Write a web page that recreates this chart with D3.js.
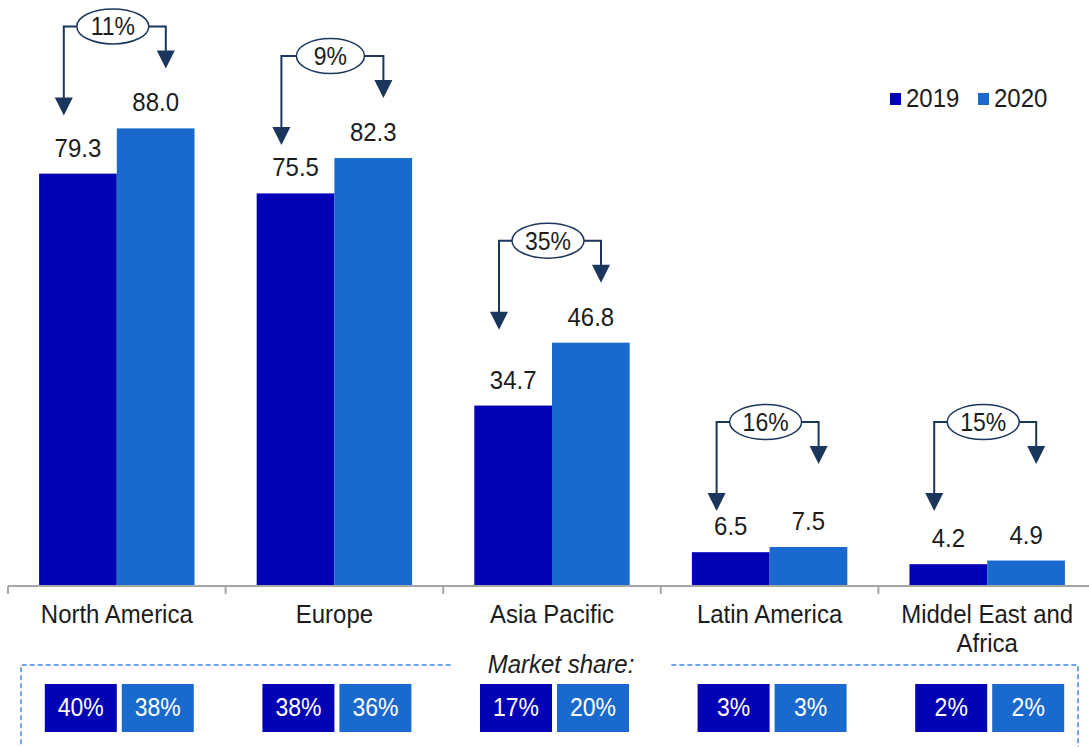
<!DOCTYPE html>
<html>
<head>
<meta charset="utf-8">
<script src="https://cdn.jsdelivr.net/npm/d3@7"></script>
<style>
  html, body { margin: 0; padding: 0; background: #fff; }
  svg { display: block; font-family: "Liberation Sans", Arial, sans-serif; }
</style>
</head>
<body>
<svg id="chart" width="1089" height="747"></svg>
<script>
// ---- data ----
const categories = ["North America", "Europe", "Asia Pacific", "Latin America", "Middel East and Africa"];
const seriesNames = ["2019", "2020"];
const values2019 = [79.3, 75.5, 34.7, 6.5, 4.2];
const values2020 = [88.0, 82.3, 46.8, 7.5, 4.9];
const growth = ["11%", "9%", "35%", "16%", "15%"];
const share2019 = ["40%", "38%", "17%", "3%", "2%"];
const share2020 = ["38%", "36%", "20%", "3%", "2%"];
const shareTitle = "Market share:";

const colors = { "2019": "#0303B5", "2020": "#1A6ACD" };
const arrowColor = "#1B365D";
const textColor = "#1c1c1c";
const SY = 1.1; // slight vertical stretch of text as in the reference

const svg = d3.select("#chart");
const W = 1089, H = 747;
const baseY = 586;

const x = d3.scaleBand().domain(categories).range([8, 1096]).paddingInner(0).paddingOuter(0);
const xs = d3.scaleBand().domain(seriesNames).range([0, x.bandwidth()]).paddingInner(0).paddingOuter(0.4);
const y = d3.scaleLinear().domain([0, 100]).range([baseY, baseY - 520]);

const rows = categories.map((c, i) => ({
  cat: c, i,
  vals: [{ s: "2019", v: values2019[i] }, { s: "2020", v: values2020[i] }],
  growth: growth[i],
  shares: [{ s: "2019", t: share2019[i] }, { s: "2020", t: share2020[i] }]
}));

function stretched(sel, px, py) {
  return sel.attr("x", 0).attr("y", 0).attr("transform", `translate(${px},${py}) scale(1,${SY})`);
}

// ---- bars ----
const g = svg.append("g");
const groups = g.selectAll("g.cat").data(rows).join("g")
  .attr("class", "cat")
  .attr("transform", d => `translate(${x(d.cat)},0)`);

groups.selectAll("rect").data(d => d.vals).join("rect")
  .attr("x", d => xs(d.s))
  .attr("width", xs.bandwidth())
  .attr("y", d => y(d.v))
  .attr("height", d => baseY - y(d.v))
  .attr("fill", d => colors[d.s]);

groups.selectAll("text.val").data(d => d.vals).join("text")
  .attr("class", "val")
  .attr("text-anchor", "middle")
  .attr("font-size", 24)
  .attr("fill", textColor)
  .text(d => d.v.toFixed(1))
  .each(function (d) { stretched(d3.select(this), xs(d.s) + xs.bandwidth() / 2, y(d.v) - 17); });

// ---- axis ----
const axis = d3.axisBottom(x).tickSizeInner(0).tickSizeOuter(0).tickPadding(0);
const axG = svg.append("g").attr("transform", `translate(0,${baseY})`).call(axis);
axG.select(".domain").attr("stroke", "#A6A6A6").attr("stroke-width", 2).attr("d", `M8,0H1089`);
axG.selectAll(".tick text")
  .attr("font-size", 24)
  .attr("font-family", "Liberation Sans, Arial, sans-serif")
  .attr("fill", textColor)
  .attr("dy", null)
  .attr("transform", `scale(1,${SY})`)
  .attr("y", 37 / SY)
  .each(function () { wrap(d3.select(this), 200, 29 / SY); });

// boundary ticks
const boundaries = d3.range(categories.length + 1).map(i => 8 + i * x.step());
svg.append("g").selectAll("line").data(boundaries.filter(b => b < W)).join("line")
  .attr("x1", d => d).attr("x2", d => d)
  .attr("y1", baseY).attr("y2", baseY + 8)
  .attr("stroke", "#A6A6A6").attr("stroke-width", 2);

function wrap(text, width, lh) {
  const words = text.text().split(/\s+/);
  const y0 = text.attr("y");
  text.text(null);
  let line = [];
  let tspan = text.append("tspan").attr("x", 0).attr("y", y0);
  let n = 0;
  words.forEach(w => {
    line.push(w);
    tspan.text(line.join(" "));
    if (tspan.node().getComputedTextLength() > width && line.length > 1) {
      line.pop();
      tspan.text(line.join(" "));
      line = [w];
      n++;
      tspan = text.append("tspan").attr("x", 0).attr("y", +y0 + n * lh).text(w);
    }
  });
}

// ---- growth annotations ----
const ann = svg.append("g");
rows.forEach(d => {
  const c = x(d.cat) + x.bandwidth() / 2;
  const ly = Math.min(y(values2020[d.i]) - 102, 422);
  const lx = c - 53, rx = c + 49, ex = c - 4;
  const erx = d.growth.length > 2 ? 36 : 34, ery = 17.5;
  const leftTip = ly + 89, rightTip = ly + 42;
  const ah = 18, aw = 9;
  const a = ann.append("g");
  a.append("path")
    .attr("d", `M${ex - erx},${ly}H${lx}V${leftTip - ah + 1}M${ex + erx},${ly}H${rx}V${rightTip - ah + 1}`)
    .attr("fill", "none").attr("stroke", arrowColor).attr("stroke-width", 2);
  a.append("path")
    .attr("d", `M${lx - aw},${leftTip - ah}L${lx + aw},${leftTip - ah}L${lx},${leftTip}Z M${rx - aw},${rightTip - ah}L${rx + aw},${rightTip - ah}L${rx},${rightTip}Z`)
    .attr("fill", arrowColor);
  a.append("ellipse")
    .attr("cx", ex).attr("cy", ly).attr("rx", erx).attr("ry", ery)
    .attr("fill", "#fff").attr("stroke", arrowColor).attr("stroke-width", 1.5);
  const t = a.append("text")
    .attr("text-anchor", "middle").attr("font-size", 23).attr("fill", textColor)
    .text(d.growth);
  stretched(t, ex, ly + 9);
});

// ---- legend ----
const leg = svg.append("g");
const legX = [890, 978];
seriesNames.forEach((s, i) => {
  leg.append("rect").attr("x", legX[i]).attr("y", 93).attr("width", 11).attr("height", 12).attr("fill", colors[s]);
  const t = leg.append("text").attr("font-size", 24).attr("fill", textColor).text(s);
  stretched(t, legX[i] + 16, 107);
});

// ---- market share ----
const ms = svg.append("g");
const title = ms.append("text")
  .attr("text-anchor", "middle").attr("font-size", 24).attr("font-style", "italic")
  .attr("fill", textColor).text(shareTitle);
stretched(title, 561, 673);
const tw = title.node().getComputedTextLength();
const topY = 665;
ms.append("path")
  .attr("d", `M${561 - tw / 2 - 37},${topY}H21V${H + 10}M${561 + tw / 2 + 37},${topY}H1078V${H + 10}`)
  .attr("fill", "none").attr("stroke", "#3F88DC").attr("stroke-width", 1.5).attr("stroke-dasharray", "5,3");

const boxOff = { "2019": -72, "2020": 5 };
rows.forEach(d => {
  const c = x(d.cat) + x.bandwidth() / 2;
  d.shares.forEach(sh => {
    ms.append("rect")
      .attr("x", c + boxOff[sh.s]).attr("y", 684).attr("width", 72).attr("height", 48)
      .attr("fill", colors[sh.s]);
    const t = ms.append("text")
      .attr("text-anchor", "middle").attr("font-size", 23).attr("fill", "#fff")
      .text(sh.t);
    stretched(t, c + boxOff[sh.s] + 36, 716);
  });
});
</script>
</body>
</html>
